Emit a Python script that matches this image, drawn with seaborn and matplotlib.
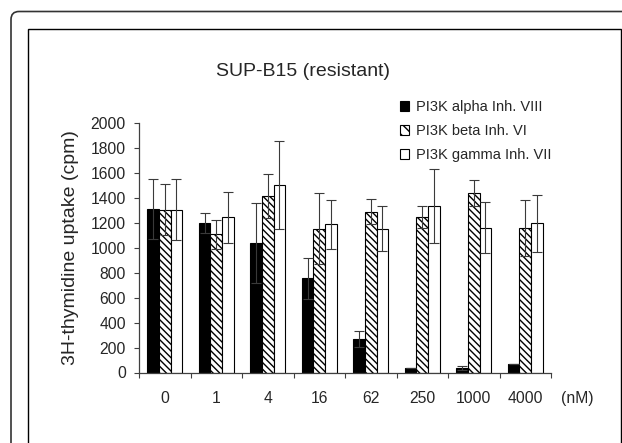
import pandas as pd
import seaborn as sns
import matplotlib.pyplot as plt
import numpy as np
from matplotlib.patches import FancyBboxPatch, Rectangle, Patch
from matplotlib.transforms import IdentityTransform

# data
concentrations = ["0", "1", "4", "16", "62", "250", "1000", "4000"]
series = ["PI3K alpha Inh. VIII", "PI3K beta Inh. VI", "PI3K gamma Inh. VII"]
alpha_vals = [1310, 1200, 1040, 755, 268, 36, 36, 66]
alpha_err = [240, 82, 322, 165, 66, 0, 16, 0]
beta_vals = [1305, 1108, 1415, 1155, 1292, 1247, 1440, 1160]
beta_err = [204, 115, 176, 285, 102, 88, 107, 222]
gamma_vals = [1308, 1247, 1506, 1190, 1155, 1338, 1162, 1198]
gamma_err = [242, 205, 352, 198, 183, 295, 205, 228]

df = pd.DataFrame({
    "conc": concentrations * 3,
    "inhibitor": np.repeat(series, len(concentrations)),
    "cpm": alpha_vals + beta_vals + gamma_vals,
    "err": alpha_err + beta_err + gamma_err,
})

sns.set_style("ticks")
plt.rcParams["font.family"] = ["Liberation Sans", "DejaVu Sans"]
plt.rcParams["hatch.linewidth"] = 1.0

fig = plt.figure(figsize=(6.22, 4.43), dpi=100)
ax = fig.add_axes([139 / 622, 70.5 / 443, 412 / 622, 249.2 / 443])

palette = {series[0]: "black", series[1]: "white", series[2]: "white"}
sns.barplot(data=df, x="conc", y="cpm", hue="inhibitor", order=concentrations,
            hue_order=series, palette=palette, width=0.68, gap=0, errorbar=None,
            edgecolor="black", linewidth=0.8, saturation=1, legend=False, ax=ax)

hatches = [None, "\\" * 5, None]
errs = [alpha_err, beta_err, gamma_err]
for cont, h, e in zip(ax.containers, hatches, errs):
    xs, ys = [], []
    for bar in cont:
        if h:
            bar.set_hatch(h)
        xs.append(bar.get_x() + bar.get_width() / 2)
        ys.append(bar.get_height())
    ax.errorbar(xs, ys, yerr=e, fmt="none", ecolor="#3a3a3a", elinewidth=0.8,
                capsize=3.3, capthick=0.8, zorder=5)

ax.set_ylim(0, 2000)
ax.set_xlim(-0.5, 7.5)
ax.set_yticks(range(0, 2001, 200))
ax.tick_params(axis="y", labelsize=11.3, length=3.5, width=0.8, color="#404040", pad=6)

# ticks between groups, labels at group centres
ax.set_xticks(np.arange(-0.5, 8, 1))
ax.set_xticklabels([])
ax.set_xticks(range(8), minor=True)
ax.set_xticklabels(concentrations, minor=True)
ax.tick_params(axis="x", which="major", length=3.5, width=0.8, color="#404040")
ax.tick_params(axis="x", which="minor", length=0, labelsize=11.3, pad=13.5)
ax.text(1.063, -0.103, "(nM)", transform=ax.transAxes, ha="center", va="center", fontsize=11.3)

ax.set_xlabel("")
ax.set_ylabel("3H-thymidine uptake (cpm)", fontsize=14)
ax.yaxis.set_label_coords(-0.146, 0.5)
sns.despine(ax=ax)
for s in ["left", "bottom"]:
    ax.spines[s].set_color("#404040")
    ax.spines[s].set_linewidth(0.9)

fig.text(303 / 622, 1 - 72 / 443, "SUP-B15 (resistant)", ha="center", va="center", fontsize=14)

handles = [Patch(facecolor="black", edgecolor="black", linewidth=0.8),
           Patch(facecolor="white", edgecolor="black", hatch="\\\\\\", linewidth=0.8),
           Patch(facecolor="white", edgecolor="black", linewidth=0.8)]
fig.legend(handles, series, loc="upper left", bbox_to_anchor=(400 / 622, 1 - 100 / 443),
           frameon=False, fontsize=10.5, handlelength=0.65, handleheight=0.65,
           handletextpad=0.45, labelspacing=0.68, borderpad=0, borderaxespad=0)

# frames around the panel
fig.add_artist(FancyBboxPatch((11, -50), 700, 443 - 11.5 + 50,
                              boxstyle="round,pad=0,rounding_size=8",
                              transform=IdentityTransform(), facecolor="none",
                              edgecolor="#333333", linewidth=1.2))
fig.add_artist(Rectangle((28, -50), 621 - 28, 443 - 29 + 50, transform=IdentityTransform(),
                         facecolor="none", edgecolor="black", linewidth=1.0))

fig.savefig("out.png", dpi=100)
plt.close(fig)
